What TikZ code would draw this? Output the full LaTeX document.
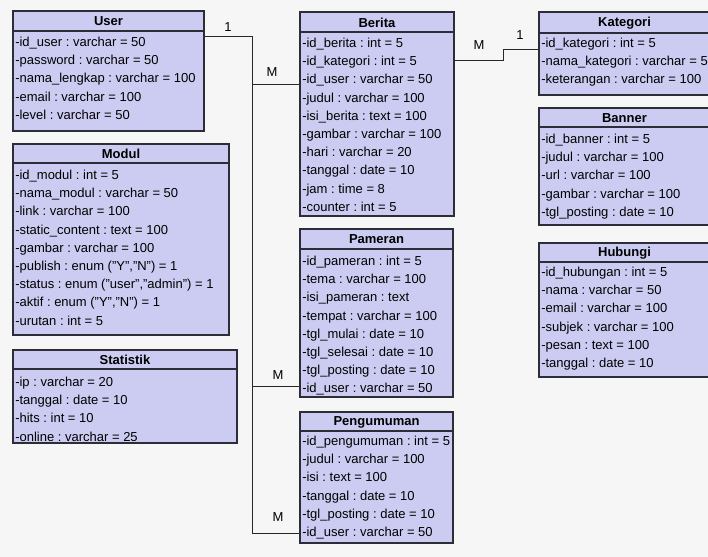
\documentclass[tikz,border=0pt]{standalone}
\usepackage{fontspec}
\setmainfont{Liberation Sans}
\usetikzlibrary{fit}
\frenchspacing
\definecolor{bgc}{RGB}{246,246,246}
\definecolor{classfill}{RGB}{204,204,242}
\definecolor{classdraw}{RGB}{45,45,55}
\definecolor{linec}{RGB}{40,40,40}
\tikzset{
  classbox/.style={draw=classdraw, fill=classfill, line width=0.9pt, inner sep=0pt},
  classline/.style={draw=classdraw, line width=0.9pt},
  classtitle/.style={font=\fontsize{9.75pt}{11pt}\selectfont\bfseries, inner sep=0pt},
  classrow/.style={font=\fontsize{9.75pt}{11pt}\selectfont\frenchspacing, inner sep=0pt, anchor=west, text height=7.2pt, text depth=2pt},
  conn/.style={draw=linec, line width=0.75pt},
  mult/.style={font=\fontsize{9.75pt}{11pt}\selectfont, inner sep=0pt}
}
\newcommand\umlclass[9]{%
  \path (#2,#3) coordinate (#1-nw) (#4,#5) coordinate (#1-se);
  \node[classbox, fit=(#1-nw)(#1-se)] (#1) {};
  \draw[classline] (#2,#6) -- (#4,#6);
  \node[classtitle] (#1-title) at ({(#2+#4)/2},{(#3+#6)/2+0.5}) {#7};
  \foreach \t [count=\i] in {#9} \node[classrow] (#1-row\i) at ({#2+2},{#8+(\i-1)*18.2}) {\t};
}
\begin{document}
\begin{tikzpicture}[x=0.75pt,y=-0.75pt]
\fill[bgc] (0,0) rectangle (708,557);
\useasboundingbox (0,0) rectangle (708,557);

\coordinate (bus-top) at (252,36);
\coordinate (bus-bot) at (252,533);
\coordinate (kat-a) at (503,60);
\coordinate (kat-b) at (503,49);

\umlclass{user}{13}{11}{204}{131}{31}{User}{43}{%
 -id\_user : varchar = 50,
 -password : varchar = 50,
 -nama\_lengkap : varchar = 100,
 -email : varchar = 100,
 -level : varchar = 50}

\umlclass{modul}{13}{144}{229}{335}{163}{Modul}{176}{%
 -id\_modul : int = 5,
 -nama\_modul : varchar = 50,
 -link : varchar = 100,
 -static\_content : text = 100,
 -gambar : varchar = 100,
 {-publish : enum ("Y","N") = 1},
 {-status : enum ("user","admin") = 1},
 {-aktif : enum ("Y","N") = 1},
 -urutan : int = 5}

\umlclass{statistik}{13}{350}{237}{443}{369}{Statistik}{383}{%
 -ip : varchar = 20,
 -tanggal : date = 10,
 -hits : int = 10,
 -online : varchar = 25}

\umlclass{berita}{300}{12}{454}{216}{32}{Berita}{44}{%
 -id\_berita : int = 5,
 -id\_kategori : int = 5,
 -id\_user : varchar = 50,
 -judul : varchar = 100,
 -isi\_berita : text = 100,
 -gambar : varchar = 100,
 -hari : varchar = 20,
 -tanggal : date = 10,
 -jam : time = 8,
 -counter : int = 5}

\umlclass{pameran}{300}{229}{453}{397}{249}{Pameran}{262}{%
 -id\_pameran : int = 5,
 -tema : varchar = 100,
 -isi\_pameran : text,
 -tempat : varchar = 100,
 -tgl\_mulai : date = 10,
 -tgl\_selesai : date = 10,
 -tgl\_posting : date = 10,
 -id\_user : varchar = 50}

\umlclass{pengumuman}{300}{412}{453}{543}{431}{Pengumuman}{442}{%
 -id\_pengumuman : int = 5,
 -judul : varchar = 100,
 -isi : text = 100,
 -tanggal : date = 10,
 -tgl\_posting : date = 10,
 -id\_user : varchar = 50}

\umlclass{kategori}{539}{12}{710}{95}{33}{Kategori}{44}{%
 -id\_kategori : int = 5,
 -nama\_kategori : varchar = 50,
 -keterangan : varchar = 100}

\umlclass{banner}{539}{108}{710}{225}{127}{Banner}{140}{%
 -id\_banner : int = 5,
 -judul : varchar = 100,
 -url : varchar = 100,
 -gambar : varchar = 100,
 -tgl\_posting : date = 10}

\umlclass{hubungi}{539}{243}{710}{377}{262}{Hubungi}{273}{%
 -id\_hubungan : int = 5,
 -nama : varchar = 50,
 -email : varchar = 100,
 -subjek : varchar = 100,
 -pesan : text = 100,
 -tanggal : date = 10}

% User 1 -- M Berita / Pameran / Pengumuman
\draw[conn] (user.east |- bus-top) -- (bus-top) -- (bus-bot) -- (pengumuman.west |- bus-bot);
\draw[conn] (bus-top |- 0,84) -- (berita.west |- 0,84);
\draw[conn] (bus-top |- 0,386) -- (pameran.west |- 0,386);
\node[mult] (m1) at (228,27) {1};
\node[mult] (m2) at (272,72) {M};
\node[mult] (m3) at (278,375) {M};
\node[mult] (m4) at (278,517) {M};

% Berita M -- 1 Kategori
\draw[conn] (berita.east |- kat-a) -- (kat-a) -- (kat-b) -- (kategori.west |- kat-b);
\node[mult] (m5) at (479,45) {M};
\node[mult] (m6) at (520,35) {1};
\end{tikzpicture}
\end{document}
